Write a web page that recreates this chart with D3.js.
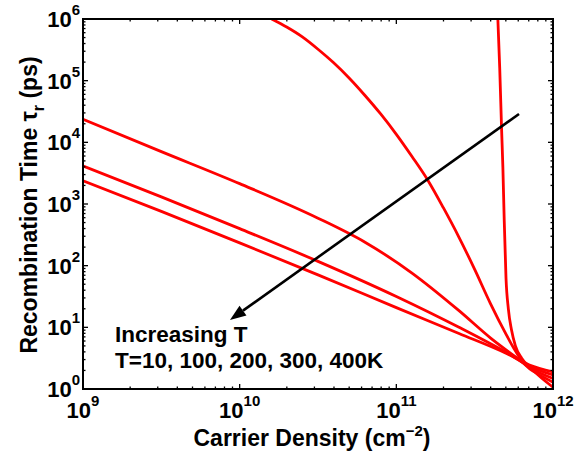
<!DOCTYPE html>
<html><head><meta charset="utf-8">
<script src="https://cdn.jsdelivr.net/npm/d3@7"></script>
<style>
html,body{margin:0;padding:0;background:#fff;}
text{font-family:"Liberation Sans",Arial,sans-serif;font-weight:bold;fill:#000;}
</style></head>
<body><svg id="c" width="575" height="452"></svg>
<script>
// ---- data (log10 carrier density in cm^-2, log10 recombination time in ps) ----
const temps = ["10K","100K","200K","300K","400K"];
const logN_T10  = [11.648,11.66,11.672,11.68,11.688,11.70,11.715,11.735,11.76,11.80,11.85,11.90,11.95,12.0];
const logTau_T10= [6.0,5.2,4.2,3.6,2.8,1.8,1.3,0.96,0.70,0.50,0.36,0.24,0.13,0.03];
const logN_T100  = [10.204,10.3,10.4,10.5,10.6,10.7,10.8,10.9,11.0,11.1,11.2,11.3,11.4,11.5,11.6,11.7,11.75,11.8,11.85,11.9,12.0];
const logTau_T100= [6.0,5.87,5.71,5.51,5.29,5.04,4.76,4.46,4.13,3.77,3.39,2.94,2.46,1.94,1.39,0.89,0.66,0.46,0.33,0.25,0.11];
const logN_T200  = [9.0,9.5,10.0,10.5,10.8,11.1,11.4,11.6,11.75,11.85,12.0];
const logTau_T200= [4.373,3.85,3.33,2.77,2.38,1.88,1.27,0.83,0.54,0.35,0.17];
const logN_T300  = [9.0,9.5,10.0,10.5,11.0,11.4,11.7,11.85,12.0];
const logTau_T300= [3.616,3.116,2.60,2.07,1.50,1.0,0.595,0.37,0.227];
const logN_T400  = [9.0,9.5,10.0,10.5,11.0,11.4,11.7,11.85,12.0];
const logTau_T400= [3.378,2.88,2.37,1.85,1.32,0.90,0.58,0.39,0.276];
const xTickExp = [9,10,11,12];
const yTickExp = [0,1,2,3,4,5,6];
const arrowFrom = [11.783, 4.46];   // [log10 n, log10 tau]
const arrowTo   = [9.938, 1.12];
const annot1 = "Increasing T";
const annot2 = "T=10, 100, 200, 300, 400K";

const series = [
  {n:logN_T10, t:logTau_T10},
  {n:logN_T100, t:logTau_T100},
  {n:logN_T200, t:logTau_T200},
  {n:logN_T300, t:logTau_T300},
  {n:logN_T400, t:logTau_T400}
];

const L=83, R=553, T=19, B=389;
const svg = d3.select("#c");
const x = d3.scaleLog().domain([1e9,1e12]).range([L,R]);
const y = d3.scaleLog().domain([1,1e6]).range([B,T]);

svg.append("defs").append("clipPath").attr("id","clip")
  .append("rect").attr("x",L).attr("y",T).attr("width",R-L).attr("height",B-T);

// curves
const line = d3.line().x(d=>x(d[0])).y(d=>y(d[1])).curve(d3.curveMonotoneX);
const g = svg.append("g").attr("clip-path","url(#clip)");
series.forEach(s=>{
  const pts = s.n.map((v,i)=>[Math.pow(10,v),Math.pow(10,s.t[i])]);
  g.append("path").attr("d",line(pts)).attr("fill","none")
    .attr("stroke","#ff0000").attr("stroke-width",2.8).attr("stroke-linejoin","round");
});

// ticks (inward, all sides)
const minorX=[], minorY=[];
for(let e=9;e<12;e++) for(let k=2;k<10;k++) minorX.push(k*Math.pow(10,e));
for(let e=0;e<6;e++) for(let k=2;k<10;k++) minorY.push(k*Math.pow(10,e));
const tk = svg.append("g").attr("stroke","#000").attr("stroke-width",1.3);
const majX = xTickExp.map(e=>Math.pow(10,e)), majY = yTickExp.map(e=>Math.pow(10,e));
function xt(v,len){
  tk.append("line").attr("x1",x(v)).attr("x2",x(v)).attr("y1",B).attr("y2",B-len);
  tk.append("line").attr("x1",x(v)).attr("x2",x(v)).attr("y1",T).attr("y2",T+len);
}
function yt(v,len){
  tk.append("line").attr("y1",y(v)).attr("y2",y(v)).attr("x1",L).attr("x2",L+len);
  tk.append("line").attr("y1",y(v)).attr("y2",y(v)).attr("x1",R).attr("x2",R-len);
}
majX.forEach(v=>xt(v,5)); minorX.forEach(v=>xt(v,2.5));
majY.forEach(v=>yt(v,5)); minorY.forEach(v=>yt(v,2.5));

// box
svg.append("rect").attr("x",L).attr("y",T).attr("width",R-L).attr("height",B-T)
  .attr("fill","none").attr("stroke","#000").attr("stroke-width",2);

// tick labels
const fs=22;
xTickExp.forEach(e=>{
  const t = svg.append("text").attr("x",x(Math.pow(10,e))).attr("y",418)
    .attr("text-anchor","middle").style("font-size",fs+"px");
  t.append("tspan").text("10");
  t.append("tspan").attr("dy",-12).style("font-size","15px").text(e);
});
yTickExp.forEach(e=>{
  const t = svg.append("text").attr("x",L-3).attr("y",y(Math.pow(10,e))+8)
    .attr("text-anchor","end").style("font-size",fs+"px");
  t.append("tspan").text("10");
  t.append("tspan").attr("dy",-12).style("font-size","15px").text(e);
});

// axis labels
const xl = svg.append("text").attr("x",312).attr("y",446).attr("text-anchor","middle").style("font-size","23px");
xl.append("tspan").text("Carrier Density (cm");
xl.append("tspan").attr("dy",-10).style("font-size","15px").text("\u22122");
xl.append("tspan").attr("dy",10).text(")");

const yl = svg.append("text").attr("transform","translate(37,205) rotate(-90)")
  .attr("text-anchor","middle").style("font-size","23px");
yl.append("tspan").text("Recombination Time \u03c4");
yl.append("tspan").attr("dy",7).style("font-size","16px").text("r");
yl.append("tspan").attr("dy",-7).text(" (ps)");

// arrow
const ax1=x(Math.pow(10,arrowFrom[0])), ay1=y(Math.pow(10,arrowFrom[1]));
const ax2=x(Math.pow(10,arrowTo[0])), ay2=y(Math.pow(10,arrowTo[1]));
const ang=Math.atan2(ay2-ay1,ax2-ax1), hl=16, hw=6;
const bx=ax2-hl*Math.cos(ang), by=ay2-hl*Math.sin(ang);
svg.append("line").attr("x1",ax1).attr("y1",ay1).attr("x2",bx).attr("y2",by)
  .attr("stroke","#000").attr("stroke-width",2.6);
svg.append("path").attr("d",`M${ax2},${ay2}L${bx+hw*Math.sin(ang)},${by-hw*Math.cos(ang)}L${bx-hw*Math.sin(ang)},${by+hw*Math.cos(ang)}Z`)
  .attr("fill","#000");

// annotation
svg.append("text").attr("x",115).attr("y",342).style("font-size","22.5px").text(annot1);
svg.append("text").attr("x",115).attr("y",368).style("font-size","22.5px").text(annot2);
</script></body></html>
